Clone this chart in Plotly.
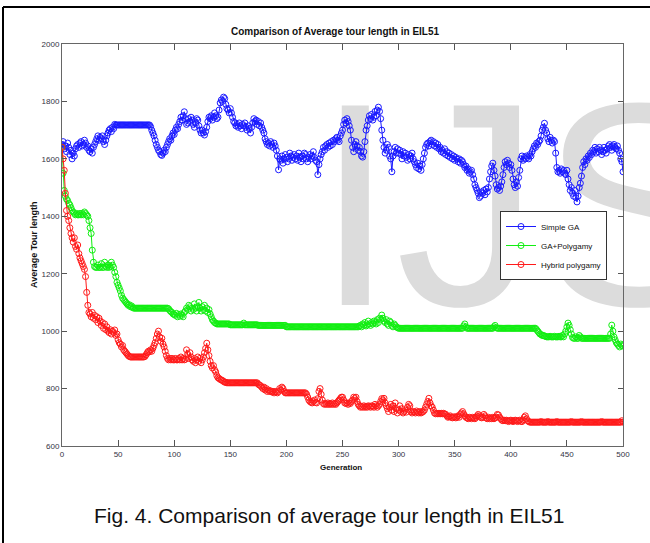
import base64
import plotly.graph_objects as go

generations = list(range(501))

simple_ga = [
    1650, 1660, 1635, 1645, 1625, 1655, 1640, 1615, 1630, 1600, 1620, 1610, 1635, 1645, 1650, 1640, 1655, 1660, 1645, 1650, 1665, 1655, 1640, 1645, 1630,
    1625, 1635, 1620, 1640, 1650, 1660, 1670, 1680, 1665, 1675, 1670, 1680, 1660, 1650, 1665, 1680, 1690, 1700, 1705, 1695, 1710, 1705, 1720, 1718, 1718,
    1718, 1718, 1718, 1718, 1718, 1718, 1718, 1718, 1718, 1718, 1718, 1718, 1718, 1718, 1718, 1718, 1718, 1718, 1718, 1718, 1718, 1718, 1718, 1718, 1718,
    1718, 1718, 1718, 1718, 1712, 1700, 1690, 1680, 1665, 1650, 1640, 1630, 1625, 1615, 1612, 1620, 1630, 1625, 1640, 1650, 1660, 1670, 1665, 1680, 1690,
    1685, 1700, 1710, 1705, 1720, 1730, 1745, 1735, 1750, 1764, 1740, 1720, 1725, 1740, 1730, 1745, 1735, 1720, 1710, 1725, 1740, 1735, 1715, 1700, 1690,
    1700, 1690, 1683, 1695, 1710, 1730, 1745, 1740, 1750, 1735, 1745, 1760, 1750, 1740, 1745, 1770, 1795, 1805, 1800, 1815, 1810, 1790, 1775, 1770, 1760,
    1775, 1760, 1745, 1730, 1725, 1715, 1720, 1710, 1725, 1715, 1705, 1720, 1715, 1725, 1710, 1700, 1715, 1705, 1690, 1710, 1725, 1740, 1730, 1735, 1720,
    1730, 1715, 1725, 1710, 1700, 1690, 1670, 1660, 1650, 1655, 1645, 1660, 1650, 1640, 1655, 1645, 1630, 1610, 1562, 1600, 1595, 1610, 1585, 1600, 1615,
    1605, 1590, 1600, 1620, 1610, 1595, 1605, 1615, 1600, 1610, 1595, 1620, 1605, 1590, 1610, 1600, 1620, 1615, 1600, 1590, 1605, 1615, 1600, 1610, 1625,
    1605, 1595, 1590, 1545, 1580, 1600, 1615, 1625, 1640, 1630, 1645, 1650, 1640, 1655, 1645, 1660, 1650, 1665, 1660, 1670, 1675, 1665, 1660, 1680, 1690,
    1700, 1720, 1735, 1725, 1740, 1730, 1715, 1700, 1665, 1640, 1625, 1650, 1660, 1645, 1630, 1640, 1625, 1610, 1606, 1625, 1660, 1700, 1715, 1735, 1750,
    1740, 1755, 1735, 1745, 1765, 1750, 1770, 1780, 1765, 1740, 1700, 1665, 1640, 1620, 1630, 1650, 1640, 1610, 1600, 1555, 1610, 1625, 1640, 1620, 1635,
    1620, 1630, 1615, 1600, 1625, 1610, 1620, 1605, 1595, 1615, 1600, 1610, 1620, 1600, 1590, 1580, 1570, 1585, 1565, 1575, 1560, 1580, 1600, 1620, 1640,
    1650, 1655, 1645, 1660, 1665, 1650, 1660, 1645, 1655, 1640, 1650, 1635, 1640, 1625, 1630, 1620, 1635, 1615, 1625, 1610, 1620, 1605, 1615, 1600, 1610,
    1595, 1605, 1600, 1590, 1600, 1585, 1595, 1590, 1580, 1570, 1575, 1560, 1565, 1550, 1555, 1560, 1545, 1530, 1510, 1500, 1490, 1480, 1465, 1470, 1485,
    1480, 1490, 1475, 1495, 1485, 1500, 1530, 1555, 1575, 1585, 1560, 1540, 1510, 1495, 1500, 1490, 1505, 1520, 1545, 1570, 1590, 1580, 1595, 1585, 1570,
    1580, 1560, 1530, 1510, 1500, 1520, 1505, 1535, 1560, 1600, 1610, 1595, 1605, 1600, 1610, 1605, 1600, 1615, 1610, 1625, 1635, 1645, 1640, 1655, 1650,
    1660, 1665, 1680, 1700, 1710, 1724, 1700, 1690, 1670, 1660, 1675, 1665, 1655, 1665, 1660, 1620, 1570, 1555, 1560, 1550, 1565, 1555, 1560, 1550, 1545,
    1560, 1530, 1510, 1490, 1500, 1480, 1470, 1490, 1465, 1450, 1470, 1500, 1515, 1540, 1570, 1590, 1580, 1600, 1595, 1610, 1605, 1620, 1615, 1630, 1625,
    1640, 1620, 1635, 1625, 1640, 1630, 1615, 1625, 1640, 1630, 1620, 1635, 1645, 1650, 1640, 1630, 1645, 1650, 1640, 1635, 1645, 1630, 1620, 1600, 1590,
    1555,
]

ga_polygamy = [
    1640, 1550, 1490, 1470, 1460, 1455, 1445, 1440, 1430, 1420, 1415, 1410, 1405, 1410, 1405, 1405, 1410, 1405, 1410, 1405, 1415, 1410, 1405, 1400, 1385,
    1360, 1340, 1282, 1240, 1225, 1222, 1222, 1230, 1222, 1222, 1235, 1222, 1222, 1240, 1225, 1222, 1230, 1222, 1225, 1240, 1230, 1222, 1205, 1190, 1170,
    1160, 1150, 1140, 1125, 1115, 1110, 1105, 1100, 1095, 1090, 1092, 1085, 1088, 1082, 1080, 1080, 1080, 1080, 1080, 1080, 1080, 1080, 1080, 1080, 1080,
    1080, 1080, 1080, 1080, 1080, 1080, 1080, 1080, 1080, 1080, 1080, 1080, 1080, 1080, 1080, 1080, 1080, 1080, 1080, 1080, 1078, 1072, 1068, 1065, 1060,
    1058, 1055, 1062, 1050, 1058, 1052, 1060, 1055, 1050, 1065, 1070, 1080, 1075, 1090, 1085, 1070, 1080, 1075, 1095, 1080, 1070, 1085, 1100, 1080, 1070,
    1085, 1075, 1090, 1070, 1080, 1065, 1075, 1060, 1050, 1040, 1035, 1030, 1028, 1025, 1025, 1025, 1025, 1025, 1025, 1025, 1025, 1025, 1025, 1025, 1025,
    1022, 1022, 1022, 1022, 1022, 1022, 1022, 1022, 1022, 1022, 1022, 1022, 1028, 1022, 1022, 1022, 1022, 1022, 1022, 1022, 1022, 1022, 1022, 1022, 1022,
    1020, 1020, 1020, 1020, 1020, 1020, 1020, 1020, 1020, 1020, 1020, 1020, 1020, 1020, 1020, 1020, 1020, 1020, 1020, 1020, 1020, 1020, 1020, 1020, 1020,
    1015, 1015, 1015, 1015, 1015, 1015, 1015, 1015, 1015, 1015, 1015, 1015, 1015, 1015, 1015, 1015, 1015, 1015, 1015, 1015, 1015, 1015, 1015, 1015, 1015,
    1015, 1015, 1015, 1015, 1015, 1015, 1015, 1015, 1015, 1015, 1015, 1015, 1015, 1015, 1015, 1015, 1015, 1015, 1015, 1015, 1015, 1015, 1015, 1015, 1015,
    1015, 1015, 1015, 1015, 1015, 1015, 1015, 1015, 1015, 1015, 1015, 1015, 1015, 1015, 1015, 1018, 1020, 1015, 1025, 1020, 1030, 1018, 1022, 1035, 1025,
    1020, 1030, 1025, 1035, 1030, 1025, 1040, 1030, 1045, 1040, 1056, 1045, 1035, 1030, 1040, 1025, 1020, 1035, 1030, 1020, 1015, 1025, 1020, 1015, 1012,
    1010, 1010, 1010, 1010, 1010, 1010, 1010, 1010, 1010, 1010, 1010, 1010, 1010, 1010, 1010, 1010, 1010, 1010, 1010, 1010, 1010, 1010, 1010, 1010, 1010,
    1010, 1010, 1010, 1010, 1010, 1010, 1010, 1010, 1010, 1010, 1010, 1010, 1010, 1010, 1010, 1010, 1010, 1010, 1010, 1010, 1010, 1010, 1010, 1010, 1010,
    1010, 1010, 1010, 1010, 1010, 1010, 1010, 1010, 1018, 1025, 1015, 1010, 1010, 1010, 1010, 1010, 1010, 1010, 1010, 1010, 1010, 1010, 1010, 1010, 1010,
    1010, 1010, 1010, 1010, 1010, 1010, 1010, 1010, 1010, 1010, 1015, 1020, 1012, 1010, 1010, 1010, 1010, 1010, 1010, 1010, 1010, 1010, 1010, 1010, 1010,
    1010, 1010, 1010, 1010, 1010, 1010, 1010, 1010, 1010, 1010, 1010, 1010, 1010, 1010, 1010, 1010, 1010, 1010, 1010, 1010, 1010, 1010, 1010, 1005, 1000,
    995, 990, 988, 985, 985, 983, 982, 980, 980, 980, 982, 980, 980, 980, 982, 980, 980, 980, 982, 980, 980, 985, 980, 990, 1000,
    1015, 1028, 1020, 1005, 990, 978, 975, 975, 980, 975, 975, 985, 980, 975, 975, 975, 975, 975, 975, 975, 975, 975, 975, 975, 975,
    975, 975, 975, 975, 975, 975, 975, 975, 975, 975, 975, 975, 975, 975, 990, 1021, 1000, 980, 970, 960, 955, 950, 945, 955, 950,
    948,
]

hybrid_polygamy = [
    1640, 1600, 1560, 1480, 1420, 1400, 1385, 1360, 1340, 1325, 1310, 1325, 1295, 1285, 1300, 1270, 1255, 1245, 1235, 1225, 1215, 1190, 1135, 1090, 1065,
    1060, 1050, 1065, 1045, 1055, 1040, 1050, 1030, 1045, 1035, 1020, 1030, 1010, 1025, 1005, 1015, 1000, 995, 1005, 990, 1000, 995, 1004, 985, 990,
    970, 960, 955, 945, 950, 935, 930, 925, 920, 915, 912, 910, 910, 910, 910, 910, 910, 910, 910, 910, 910, 910, 910, 910, 912,
    918, 925, 930, 928, 935, 930, 940, 950, 960, 975, 990, 1000, 980, 965, 975, 955, 945, 930, 915, 905, 900, 905, 900, 905, 900,
    900, 905, 900, 900, 905, 900, 910, 900, 905, 900, 902, 935, 920, 905, 925, 910, 900, 895, 905, 890, 900, 910, 895, 905, 890,
    900, 910, 925, 940, 958, 935, 915, 895, 880, 872, 880, 865, 858, 845, 838, 835, 832, 830, 828, 825, 822, 822, 820, 820, 820,
    820, 820, 820, 820, 820, 820, 820, 820, 820, 820, 820, 820, 820, 820, 820, 820, 820, 820, 820, 820, 820, 820, 820, 820, 820,
    815, 812, 810, 805, 800, 805, 795, 800, 790, 795, 790, 792, 788, 790, 785, 790, 788, 785, 790, 800, 795, 805, 800, 790, 785,
    785, 785, 785, 785, 785, 785, 785, 785, 785, 785, 785, 785, 785, 785, 785, 785, 785, 785, 780, 770, 760, 755, 752, 750, 755,
    760, 752, 750, 765, 790, 800, 780, 760, 748, 745, 748, 745, 750, 745, 748, 745, 750, 745, 748, 745, 750, 755, 760, 765, 770,
    770, 760, 750, 748, 750, 745, 750, 748, 755, 760, 770, 765, 770, 755, 745, 740, 735, 738, 735, 740, 735, 738, 735, 740, 738,
    735, 740, 738, 735, 745, 740, 735, 740, 745, 755, 765, 760, 766, 750, 740, 730, 720, 735, 745, 725, 740, 720, 750, 730, 715,
    725, 740, 720, 730, 715, 720, 725, 718, 735, 745, 740, 720, 715, 720, 718, 715, 722, 718, 715, 720, 715, 718, 720, 725, 735,
    745, 755, 766, 750, 740, 735, 725, 715, 712, 714, 712, 714, 712, 714, 712, 714, 712, 710, 705, 700, 702, 705, 700, 698, 700,
    702, 698, 700, 705, 700, 710, 715, 720, 712, 705, 700, 698, 695, 700, 698, 695, 700, 698, 695, 700, 705, 710, 705, 700, 698,
    700, 710, 705, 698, 695, 700, 695, 698, 695, 700, 695, 698, 700, 710, 708, 700, 695, 690, 688, 690, 688, 690, 688, 685, 688,
    690, 688, 685, 688, 690, 688, 685, 688, 690, 686, 685, 690, 700, 705, 695, 688, 685, 683, 683, 683, 683, 683, 683, 683, 683,
    683, 683, 685, 683, 683, 683, 683, 683, 685, 683, 683, 683, 683, 683, 683, 683, 685, 683, 683, 683, 683, 683, 683, 683, 683,
    683, 683, 683, 683, 685, 683, 683, 683, 683, 683, 683, 683, 683, 685, 683, 683, 683, 683, 683, 683, 683, 683, 683, 683, 683,
    683, 683, 683, 683, 683, 683, 685, 683, 683, 683, 683, 683, 683, 683, 683, 683, 683, 683, 683, 683, 683, 683, 683, 683, 688,
    683,
]

series_names = ["Simple GA", "GA+Polygamy", "Hybrid polygamy"]
series_colors = ["#1a1aff", "#11ee11", "#ff1a1a"]
y_ticks = [600, 800, 1000, 1200, 1400, 1600, 1800, 2000]
x_ticks = [0, 50, 100, 150, 200, 250, 300, 350, 400, 450, 500]

W, H = 650, 543
L, R, T, B = 62, 623, 44, 446  # plot area in pixels


def px(x):
    return (x - L) / (R - L)


def py(y):
    return (B - y) / (B - T)


fig = go.Figure()
for name, vals, col in zip(series_names, [simple_ga, ga_polygamy, hybrid_polygamy], series_colors):
    fig.add_trace(go.Scatter(
        x=generations, y=vals, name=name, mode="lines+markers",
        line=dict(color=col, width=1),
        marker=dict(symbol="circle-open", size=6, color=col, line=dict(width=1, color=col)),
    ))

narrow = "Liberation Sans Narrow, Arial Narrow, Liberation Sans, Arial, sans-serif"

svg = (
    "<svg xmlns='http://www.w3.org/2000/svg' width='650' height='543'>"
    "<text x='315' y='305' font-family='Liberation Sans, Arial, sans-serif' "
    "font-size='290' fill='#dcdcdc'>IJS</text></svg>"
)
svg_uri = "data:image/svg+xml;base64," + base64.b64encode(svg.encode()).decode()

axis_common = dict(
    showline=True, linecolor="#666666", linewidth=1, mirror="ticks",
    ticks="inside", tickcolor="#555555", showgrid=False, zeroline=False,
    tickfont=dict(family=narrow, size=8, color="#333344"),
)

fig.update_layout(
    width=W, height=H,
    margin=dict(l=L, r=W - R, t=T, b=H - B, pad=0),
    paper_bgcolor="white", plot_bgcolor="rgba(0,0,0,0)",
    showlegend=True,
    title=dict(text="<b>Comparison of Average tour length in EIL51</b>",
               x=335 / W, xanchor="center", y=1 - 31 / H, yanchor="middle",
               font=dict(family=narrow, size=10, color="#111111")),
    xaxis=dict(range=[0, 500], tickvals=x_ticks, ticklen=6, **axis_common),
    yaxis=dict(range=[600, 2000], tickvals=y_ticks, ticklen=5, **axis_common),
    legend=dict(x=px(500), y=py(211), xanchor="left", yanchor="top",
                bgcolor="white", bordercolor="#333333", borderwidth=1,
                font=dict(family=narrow, size=8, color="#111111"),
                tracegroupgap=0, itemwidth=30),
    images=[dict(source=svg_uri, xref="paper", yref="paper",
                 x=px(0), y=py(0), sizex=W / (R - L), sizey=H / (B - T),
                 xanchor="left", yanchor="top", sizing="stretch", layer="below")],
    shapes=[
        dict(type="line", xref="paper", yref="paper", x0=px(3), x1=px(3), y0=py(7), y1=py(560),
             line=dict(color="black", width=2)),
        dict(type="line", xref="paper", yref="paper", x0=px(3), x1=px(660), y0=py(7), y1=py(7),
             line=dict(color="black", width=2)),
    ],
    annotations=[
        dict(text="<b>Generation</b>", xref="paper", yref="paper", x=px(341), y=py(467),
             showarrow=False, xanchor="center", yanchor="middle",
             font=dict(family=narrow, size=8, color="#111111")),
        dict(text="<b>Average Tour length</b>", xref="paper", yref="paper", x=px(34), y=py(245),
             showarrow=False, xanchor="center", yanchor="middle", textangle=-90,
             font=dict(family=narrow, size=9, color="#111111")),
        dict(text="Fig. 4. Comparison of average tour length in EIL51", xref="paper", yref="paper",
             x=px(329), y=py(515), showarrow=False, xanchor="center", yanchor="middle",
             font=dict(family="Liberation Sans, Arial, sans-serif", size=21, color="#111111")),
    ],
)

fig.write_html("out.html")
